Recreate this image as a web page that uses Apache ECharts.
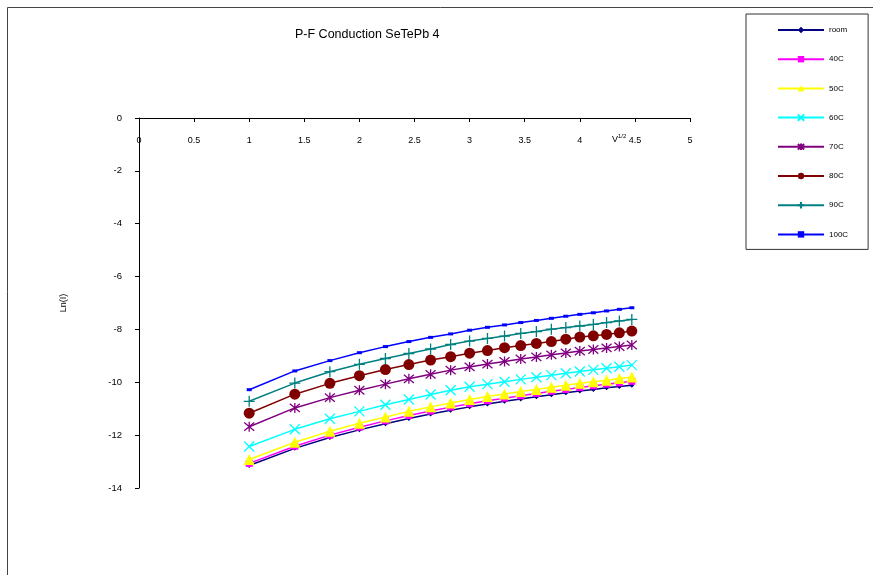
<!DOCTYPE html>
<html>
<head>
<meta charset="utf-8">
<script src="https://cdn.jsdelivr.net/npm/echarts@6/dist/echarts.min.js"></script>
<style>
html,body{margin:0;padding:0;background:#fff;}
#c{width:873px;height:575px;}
</style>
</head>
<body>
<div id="c"></div>
<script>
// sqrt(V) values, V = 1..20
var xValues = [1.000, 1.414, 1.732, 2.000, 2.236, 2.449, 2.646, 2.828, 3.000, 3.162,
               3.317, 3.464, 3.606, 3.742, 3.873, 4.000, 4.123, 4.243, 4.359, 4.472];

var seriesNames = ['room', '40C', '50C', '60C', '70C', '80C', '90C', '100C'];

var roomVals = [-13.15, -12.50, -12.09, -11.80, -11.57, -11.37, -11.20, -11.06, -10.93, -10.82,
                -10.72, -10.63, -10.55, -10.47, -10.40, -10.33, -10.27, -10.21, -10.16, -10.11];
var c40Vals  = [-13.07, -12.42, -12.00, -11.70, -11.46, -11.26, -11.09, -10.94, -10.81, -10.70,
                -10.60, -10.51, -10.42, -10.34, -10.27, -10.20, -10.13, -10.07, -10.02, -9.96];
var c50Vals  = [-12.92, -12.27, -11.85, -11.55, -11.31, -11.10, -10.93, -10.78, -10.65, -10.54,
                -10.44, -10.35, -10.27, -10.19, -10.11, -10.04, -9.98, -9.92, -9.86, -9.80];
var c60Vals  = [-12.43, -11.78, -11.38, -11.10, -10.85, -10.65, -10.46, -10.30, -10.17, -10.07,
                -9.98, -9.89, -9.81, -9.73, -9.66, -9.59, -9.53, -9.47, -9.41, -9.35];
var c70Vals  = [-11.68, -10.97, -10.58, -10.30, -10.07, -9.87, -9.70, -9.54, -9.42, -9.31,
                -9.21, -9.12, -9.04, -8.96, -8.89, -8.82, -8.76, -8.70, -8.65, -8.59];
var c80Vals  = [-11.17, -10.45, -10.04, -9.75, -9.52, -9.33, -9.16, -9.03, -8.90, -8.80,
                -8.69, -8.61, -8.53, -8.46, -8.37, -8.29, -8.24, -8.19, -8.13, -8.06];
var c90Vals  = [-10.72, -10.03, -9.60, -9.32, -9.10, -8.91, -8.74, -8.57, -8.44, -8.34,
                -8.25, -8.15, -8.08, -7.99, -7.93, -7.87, -7.81, -7.74, -7.68, -7.62];
var c100Vals = [-10.28, -9.57, -9.18, -8.88, -8.65, -8.46, -8.30, -8.17, -8.03, -7.92,
                -7.83, -7.74, -7.66, -7.58, -7.50, -7.43, -7.37, -7.30, -7.24, -7.18];

var xTickLabels = ['0', '0.5', '1', '1.5', '2', '2.5', '3', '3.5', '4', '4.5', '5'];
var yTickLabels = ['-14', '-12', '-10', '-8', '-6', '-4', '-2', '0'];

var allVals = [roomVals, c40Vals, c50Vals, c60Vals, c70Vals, c80Vals, c90Vals, c100Vals];

var colors = ['#000080', '#FF00FF', '#FFFF00', '#00FFFF', '#800080', '#800000', '#008080', '#0000FF'];
var symbols = [
  'diamond',
  'rect',
  'triangle',
  'path://M0,0L10,10M10,0L0,10',
  'path://M0,0L10,10M10,0L0,10M5,-1L5,11',
  'circle',
  'path://M5,0L5,10M0,5L10,5',
  'rect'
];
var symbolSizes = [5, 7, 11, 10, 10, 11, 11, [5, 3]];
var strokeSymbol = [false, false, false, true, true, false, true, false];

var FONT = 'Liberation Sans, Arial, sans-serif';

var series = seriesNames.map(function (name, i) {
  return {
    name: name,
    type: 'line',
    data: xValues.map(function (x, j) { return [x, allVals[i][j]]; }),
    symbol: symbols[i],
    symbolSize: symbolSizes[i],
    showAllSymbol: true,
    lineStyle: { color: colors[i], width: 1.5 },
    itemStyle: strokeSymbol[i]
      ? { color: colors[i], borderColor: colors[i], borderWidth: 1.3 }
      : { color: colors[i], borderWidth: 0 },
    emphasis: { disabled: true },
    animation: false,
    z: 2 + i
  };
});

var chart = echarts.init(document.getElementById('c'), null, { renderer: 'canvas' });
chart.setOption({
  backgroundColor: '#fff',
  animation: false,
  title: {
    text: 'P-F Conduction SeTePb 4',
    left: 290,
    top: 23,
    textStyle: { fontFamily: FONT, fontSize: 12.5, fontWeight: 'normal', color: '#000' }
  },
  legend: {
    orient: 'vertical',
    left: 746,
    top: 14,
    padding: [9, 20, 8, 31],
    itemWidth: 46,
    itemHeight: 8,
    itemGap: 15.2,
    borderColor: '#333',
    borderWidth: 1,
    textStyle: { fontFamily: FONT, fontSize: 8, color: '#000', lineHeight: 14 },
    data: seriesNames
  },
  grid: { left: 139, right: 183, top: 118, bottom: 87, containLabel: false },
  xAxis: {
    type: 'value',
    position: 'top',
    min: 0,
    max: 5,
    interval: 0.5,
    axisLine: { onZero: false, lineStyle: { color: '#000', width: 1 } },
    axisTick: { show: true, inside: true, length: 4, lineStyle: { color: '#000' } },
    splitLine: { show: false },
    axisLabel: {
      inside: true,
      margin: 18,
      fontFamily: FONT,
      fontSize: 9,
      color: '#000',
      formatter: function (v) {
        var idx = Math.round(v / 0.5);
        return xTickLabels[idx] !== undefined ? xTickLabels[idx] : '';
      }
    }
  },
  yAxis: {
    type: 'value',
    min: -14,
    max: 0,
    interval: 2,
    name: 'Ln(I)',
    nameLocation: 'middle',
    nameGap: 71,
    nameRotate: 90,
    nameTextStyle: { fontFamily: FONT, fontSize: 9, color: '#000' },
    axisLine: { onZero: false, lineStyle: { color: '#000', width: 1 } },
    axisTick: { show: true, length: 4, lineStyle: { color: '#000' } },
    splitLine: { show: false },
    axisLabel: {
      margin: 17,
      fontFamily: FONT,
      fontSize: 9.5,
      color: '#000',
      formatter: function (v) {
        var idx = Math.round((v + 14) / 2);
        return yTickLabels[idx] !== undefined ? yTickLabels[idx] : '';
      }
    }
  },
  graphic: [
    {
      type: 'rect',
      shape: { x: 7.5, y: 7.5, width: 900, height: 600 },
      style: { fill: 'none', stroke: '#444', lineWidth: 1 },
      silent: true,
      z: -1
    },
    {
      type: 'text',
      left: 612,
      top: 133,
      style: {
        text: '{a|V}{b|1/2}',
        rich: {
          a: { fontFamily: FONT, fontSize: 9, fill: '#000', verticalAlign: 'bottom' },
          b: { fontFamily: FONT, fontSize: 6, fill: '#000', verticalAlign: 'top', padding: [0, 0, 5, 0] }
        }
      }
    }
  ],
  series: series
});
</script>
</body>
</html>
